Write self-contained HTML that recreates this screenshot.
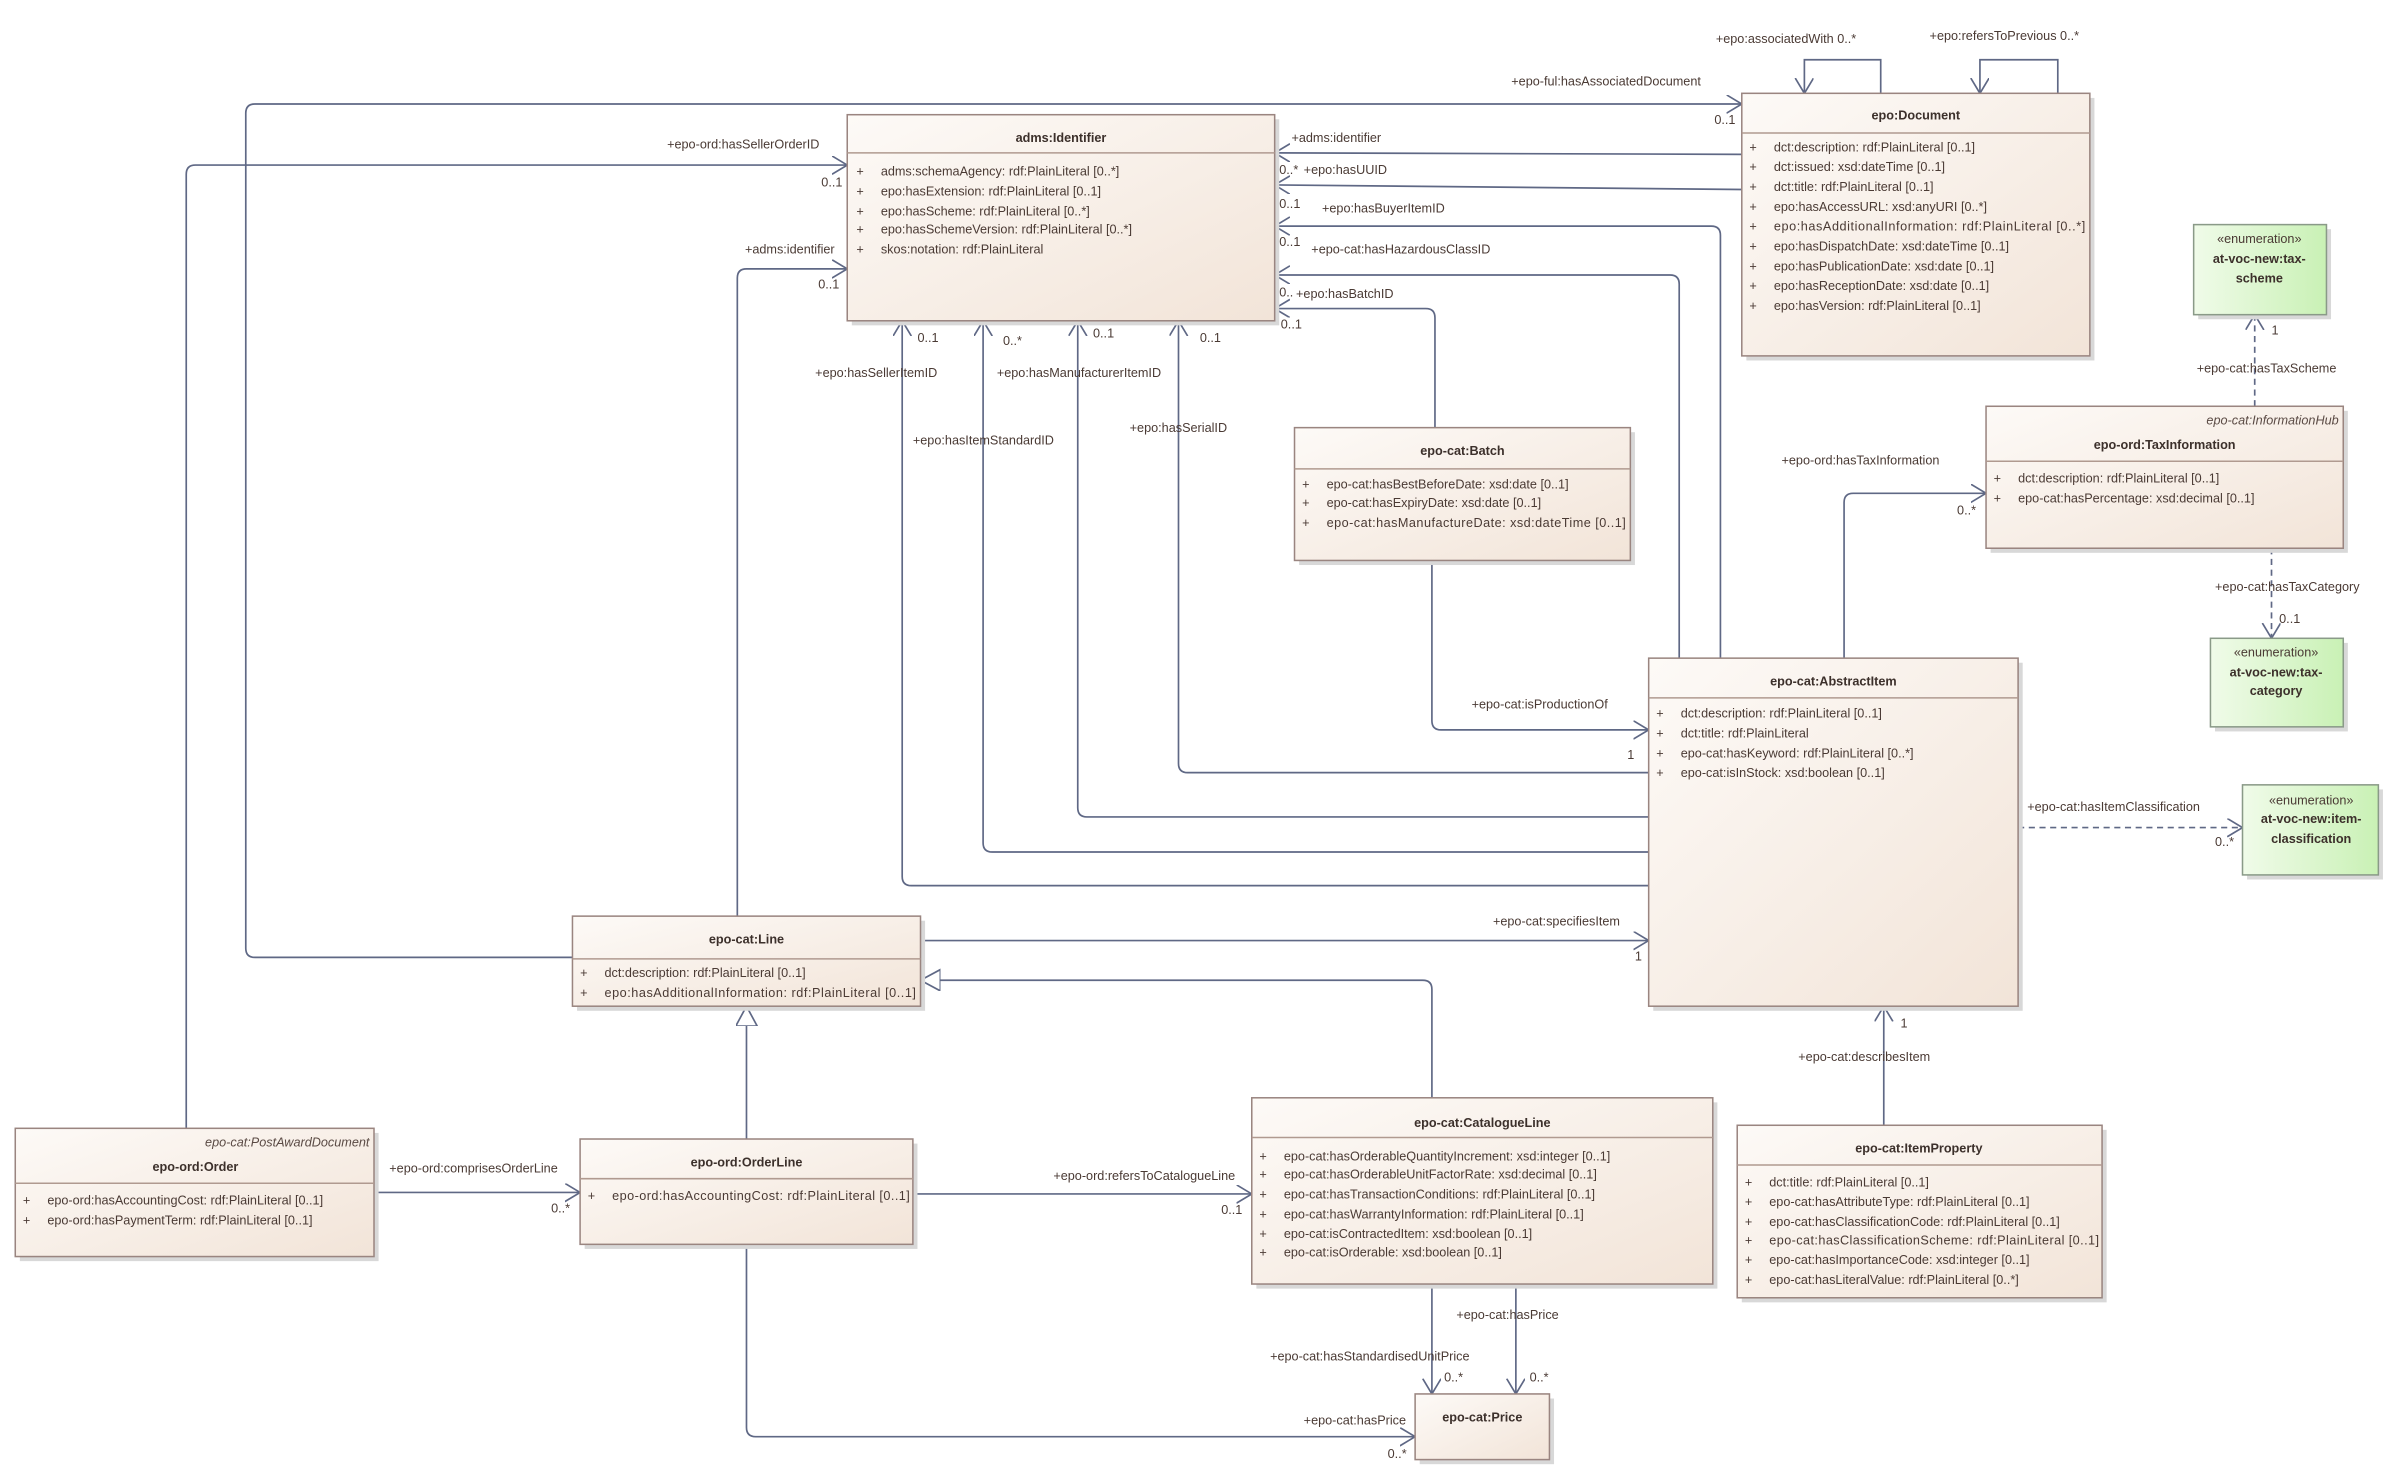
<!DOCTYPE html>
<html><head><meta charset="utf-8"><style>
html,body{margin:0;padding:0;background:#fff}
svg{display:block}
text{font-family:"Liberation Sans",sans-serif;font-size:8.3px;fill:#4a3a34}
.t{font-weight:bold;text-anchor:middle;fill:#3c302b}
.i{font-style:italic;text-anchor:end;fill:#5a4a44}
.c{text-anchor:middle}
.l{fill:#4a4a55}
.ln{fill:none;stroke:#5f6885;stroke-width:1.1}
.d{stroke-dasharray:4,3}
.bx{fill:url(#g);stroke:#9a8580;stroke-width:1}
.en{fill:url(#gg);stroke:#8a9a88;stroke-width:1}
.sh{fill:#d8d8d8}
.sep{stroke:#b09a90;stroke-width:1}
</style></head><body>
<svg width="2386" height="1472" viewBox="0 0 1563 964" xmlns="http://www.w3.org/2000/svg">
<defs>
<linearGradient id="g" x1="0" y1="0" x2="1" y2="1"><stop offset="0" stop-color="#fdfaf7"/><stop offset="1" stop-color="#f2e4d8"/></linearGradient>
<linearGradient id="gg" x1="0" y1="0" x2="1" y2="0"><stop offset="0" stop-color="#f0fbe9"/><stop offset="1" stop-color="#c9f1b5"/></linearGradient>
<marker id="a" markerUnits="userSpaceOnUse" markerWidth="14" markerHeight="14" refX="10" refY="6" orient="auto"><path d="M0,0 L10,6 L0,12" fill="none" stroke="#5f6885" stroke-width="1.1"/></marker>
<marker id="tri" markerUnits="userSpaceOnUse" markerWidth="16" markerHeight="16" refX="13" refY="7" orient="auto"><path d="M0,0 L13,7 L0,14 Z" fill="#fff" stroke="#5f6885" stroke-width="1.1"/></marker>
</defs>

<!-- connectors -->
<path class="ln" d="M375,627 H167 Q161,627 161,621 V74 Q161,68 167,68 H1141" marker-end="url(#a)"/>
<path class="ln" d="M122,739 V114 Q122,108 128,108 H555" marker-end="url(#a)"/>
<path class="ln" d="M483,600 V182 Q483,176 489,176 H555" marker-end="url(#a)"/>
<path class="ln" d="M1141,101 L835,100" marker-end="url(#a)"/>
<path class="ln" d="M1141,124 L835,121" marker-end="url(#a)"/>
<path class="ln" d="M1127,431 V154 Q1127,148 1121,148 H835" marker-end="url(#a)"/>
<path class="ln" d="M1100,431 V186 Q1100,180 1094,180 H835" marker-end="url(#a)"/>
<path class="ln" d="M940,280 V208 Q940,202 934,202 H835" marker-end="url(#a)"/>
<path class="ln" d="M1080,580 H597 Q591,580 591,574 V210" marker-end="url(#a)"/>
<path class="ln" d="M1080,558 H650 Q644,558 644,552 V210" marker-end="url(#a)"/>
<path class="ln" d="M1080,535 H712 Q706,535 706,529 V210" marker-end="url(#a)"/>
<path class="ln" d="M1080,506 H778 Q772,506 772,500 V210" marker-end="url(#a)"/>
<path class="ln" d="M938,367 V472 Q938,478 944,478 H1080" marker-end="url(#a)"/>
<path class="ln" d="M1208,431 V329 Q1208,323 1214,323 H1301" marker-end="url(#a)"/>
<path class="ln d" d="M1477,266 V206" marker-end="url(#a)"/>
<path class="ln d" d="M1488,359 V418" marker-end="url(#a)"/>
<path class="ln d" d="M1322,542 H1469" marker-end="url(#a)"/>
<path class="ln" d="M603,616 H1080" marker-end="url(#a)"/>
<path class="ln" d="M1234,737 V659" marker-end="url(#a)"/>
<path class="ln" d="M938,719 V648 Q938,642 932,642 H603" marker-end="url(#tri)"/>
<path class="ln" d="M489,746 V659" marker-end="url(#tri)"/>
<path class="ln" d="M245,781 H380" marker-end="url(#a)"/>
<path class="ln" d="M598,782 H820" marker-end="url(#a)"/>
<path class="ln" d="M1232,61 V39 H1182 V61" marker-end="url(#a)"/>
<path class="ln" d="M1348,61 V39 H1297 V61" marker-end="url(#a)"/>
<path class="ln" d="M938,841 V913" marker-end="url(#a)"/>
<path class="ln" d="M993,841 V913" marker-end="url(#a)"/>
<path class="ln" d="M489,815 V935 Q489,941 495,941 H927" marker-end="url(#a)"/>

<!-- connector labels -->
<g class="l">
<text x="990" y="56">+epo-ful:hasAssociatedDocument</text><text x="1123" y="81">0..1</text>
<text x="437" y="97">+epo-ord:hasSellerOrderID</text><text x="538" y="122">0..1</text>
<text x="488" y="166">+adms:identifier</text><text x="536" y="189">0..1</text>
<text x="846" y="93">+adms:identifier</text><text x="838" y="114">0..*</text><text x="854" y="114">+epo:hasUUID</text>
<text x="838" y="136">0..1</text><text x="866" y="139">+epo:hasBuyerItemID</text>
<text x="838" y="161">0..1</text><text x="859" y="166">+epo-cat:hasHazardousClassID</text>
<text x="838" y="194">0..</text><text x="849" y="195">+epo:hasBatchID</text><text x="839" y="215">0..1</text>
<text x="534" y="247">+epo:hasSellerItemID</text><text x="601" y="224">0..1</text>
<text x="598" y="291">+epo:hasItemStandardID</text><text x="657" y="226">0..*</text>
<text x="653" y="247">+epo:hasManufacturerItemID</text><text x="716" y="221">0..1</text>
<text x="740" y="283">+epo:hasSerialID</text><text x="786" y="224">0..1</text>
<text x="964" y="464">+epo-cat:isProductionOf</text><text x="1066" y="497">1</text>
<text x="1167" y="304">+epo-ord:hasTaxInformation</text><text x="1282" y="337">0..*</text>
<text x="1439" y="244">+epo-cat:hasTaxScheme</text><text x="1488" y="219">1</text>
<text x="1451" y="387">+epo-cat:hasTaxCategory</text><text x="1493" y="408">0..1</text>
<text x="1328" y="531">+epo-cat:hasItemClassification</text><text x="1451" y="554">0..*</text>
<text x="978" y="606">+epo-cat:specifiesItem</text><text x="1071" y="629">1</text>
<text x="1178" y="695">+epo-cat:describesItem</text><text x="1245" y="673">1</text>
<text x="255" y="768">+epo-ord:comprisesOrderLine</text><text x="361" y="794">0..*</text>
<text x="690" y="773">+epo-ord:refersToCatalogueLine</text><text x="800" y="795">0..1</text>
<text x="1124" y="28">+epo:associatedWith 0..*</text>
<text x="1264" y="26">+epo:refersToPrevious 0..*</text>
<text x="832" y="891">+epo-cat:hasStandardisedUnitPrice</text><text x="946" y="905">0..*</text>
<text x="954" y="864">+epo-cat:hasPrice</text><text x="1002" y="905">0..*</text>
<text x="854" y="933">+epo-cat:hasPrice</text><text x="909" y="955">0..*</text>
</g>

<!-- adms:Identifier -->
<rect class="sh" x="558" y="78" width="280" height="135"/>
<rect class="bx" x="555" y="75" width="280" height="135"/>
<line class="sep" x1="555" y1="100" x2="835" y2="100"/>
<text class="t" x="695" y="93">adms:Identifier</text>
<text x="561" y="115">+</text><text x="577" y="115">adms:schemaAgency: rdf:PlainLiteral [0..*]</text>
<text x="561" y="128">+</text><text x="577" y="128">epo:hasExtension: rdf:PlainLiteral [0..1]</text>
<text x="561" y="141">+</text><text x="577" y="141">epo:hasScheme: rdf:PlainLiteral [0..*]</text>
<text x="561" y="153">+</text><text x="577" y="153">epo:hasSchemeVersion: rdf:PlainLiteral [0..*]</text>
<text x="561" y="166">+</text><text x="577" y="166">skos:notation: rdf:PlainLiteral</text>

<!-- epo:Document -->
<rect class="sh" x="1144" y="64" width="228" height="172"/>
<rect class="bx" x="1141" y="61" width="228" height="172"/>
<line class="sep" x1="1141" y1="87" x2="1369" y2="87"/>
<text class="t" x="1255" y="78">epo:Document</text>
<g>
<text x="1146" y="99">+</text><text x="1162" y="99">dct:description: rdf:PlainLiteral [0..1]</text>
<text x="1146" y="112">+</text><text x="1162" y="112">dct:issued: xsd:dateTime [0..1]</text>
<text x="1146" y="125">+</text><text x="1162" y="125">dct:title: rdf:PlainLiteral [0..1]</text>
<text x="1146" y="138">+</text><text x="1162" y="138">epo:hasAccessURL: xsd:anyURI [0..*]</text>
<text x="1146" y="151">+</text><text x="1162" y="151" textLength="204">epo:hasAdditionalInformation: rdf:PlainLiteral [0..*]</text>
<text x="1146" y="164">+</text><text x="1162" y="164">epo:hasDispatchDate: xsd:dateTime [0..1]</text>
<text x="1146" y="177">+</text><text x="1162" y="177">epo:hasPublicationDate: xsd:date [0..1]</text>
<text x="1146" y="190">+</text><text x="1162" y="190">epo:hasReceptionDate: xsd:date [0..1]</text>
<text x="1146" y="203">+</text><text x="1162" y="203">epo:hasVersion: rdf:PlainLiteral [0..1]</text>
</g>

<!-- enums -->
<rect class="sh" x="1440" y="150" width="87" height="59"/>
<rect class="en" x="1437" y="147" width="87" height="59"/>
<text class="c" x="1480" y="159">«enumeration»</text>
<text class="t" x="1480" y="172">at-voc-new:tax-</text><text class="t" x="1480" y="185">scheme</text>

<rect class="sh" x="1451" y="421" width="87" height="58"/>
<rect class="en" x="1448" y="418" width="87" height="58"/>
<text class="c" x="1491" y="430">«enumeration»</text>
<text class="t" x="1491" y="443">at-voc-new:tax-</text><text class="t" x="1491" y="455">category</text>

<rect class="sh" x="1472" y="517" width="89" height="59"/>
<rect class="en" x="1469" y="514" width="89" height="59"/>
<text class="c" x="1514" y="527">«enumeration»</text>
<text class="t" x="1514" y="539">at-voc-new:item-</text><text class="t" x="1514" y="552">classification</text>

<!-- TaxInformation -->
<rect class="sh" x="1304" y="269" width="234" height="93"/>
<rect class="bx" x="1301" y="266" width="234" height="93"/>
<text class="i" x="1532" y="278">epo-cat:InformationHub</text>
<text class="t" x="1418" y="294">epo-ord:TaxInformation</text>
<line class="sep" x1="1301" y1="302" x2="1535" y2="302"/>
<text x="1306" y="316">+</text><text x="1322" y="316">dct:description: rdf:PlainLiteral [0..1]</text>
<text x="1306" y="329">+</text><text x="1322" y="329">epo-cat:hasPercentage: xsd:decimal [0..1]</text>

<!-- Batch -->
<rect class="sh" x="851" y="283" width="220" height="87"/>
<rect class="bx" x="848" y="280" width="220" height="87"/>
<text class="t" x="958" y="298">epo-cat:Batch</text>
<line class="sep" x1="848" y1="307" x2="1068" y2="307"/>
<text x="853" y="320">+</text><text x="869" y="320">epo-cat:hasBestBeforeDate: xsd:date [0..1]</text>
<text x="853" y="332">+</text><text x="869" y="332">epo-cat:hasExpiryDate: xsd:date [0..1]</text>
<text x="853" y="345">+</text><text x="869" y="345" textLength="196">epo-cat:hasManufactureDate: xsd:dateTime [0..1]</text>

<!-- AbstractItem -->
<rect class="sh" x="1083" y="434" width="242" height="228"/>
<rect class="bx" x="1080" y="431" width="242" height="228"/>
<text class="t" x="1201" y="449">epo-cat:AbstractItem</text>
<line class="sep" x1="1080" y1="457" x2="1322" y2="457"/>
<text x="1085" y="470">+</text><text x="1101" y="470">dct:description: rdf:PlainLiteral [0..1]</text>
<text x="1085" y="483">+</text><text x="1101" y="483">dct:title: rdf:PlainLiteral</text>
<text x="1085" y="496">+</text><text x="1101" y="496">epo-cat:hasKeyword: rdf:PlainLiteral [0..*]</text>
<text x="1085" y="509">+</text><text x="1101" y="509">epo-cat:isInStock: xsd:boolean [0..1]</text>

<!-- Line -->
<rect class="sh" x="378" y="603" width="228" height="59"/>
<rect class="bx" x="375" y="600" width="228" height="59"/>
<text class="t" x="489" y="618">epo-cat:Line</text>
<line class="sep" x1="375" y1="628" x2="603" y2="628"/>
<text x="380" y="640">+</text><text x="396" y="640">dct:description: rdf:PlainLiteral [0..1]</text>
<text x="380" y="653">+</text><text x="396" y="653" textLength="204">epo:hasAdditionalInformation: rdf:PlainLiteral [0..1]</text>

<!-- Order -->
<rect class="sh" x="13" y="742" width="235" height="84"/>
<rect class="bx" x="10" y="739" width="235" height="84"/>
<text class="i" x="242" y="751">epo-cat:PostAwardDocument</text>
<text class="t" x="128" y="767">epo-ord:Order</text>
<line class="sep" x1="10" y1="775" x2="245" y2="775"/>
<text x="15" y="789">+</text><text x="31" y="789">epo-ord:hasAccountingCost: rdf:PlainLiteral [0..1]</text>
<text x="15" y="802">+</text><text x="31" y="802">epo-ord:hasPaymentTerm: rdf:PlainLiteral [0..1]</text>

<!-- OrderLine -->
<rect class="sh" x="383" y="749" width="218" height="69"/>
<rect class="bx" x="380" y="746" width="218" height="69"/>
<text class="t" x="489" y="764">epo-ord:OrderLine</text>
<line class="sep" x1="380" y1="772" x2="598" y2="772"/>
<text x="385" y="786">+</text><text x="401" y="786" textLength="195">epo-ord:hasAccountingCost: rdf:PlainLiteral [0..1]</text>

<!-- CatalogueLine -->
<rect class="sh" x="823" y="722" width="302" height="122"/>
<rect class="bx" x="820" y="719" width="302" height="122"/>
<text class="t" x="971" y="738">epo-cat:CatalogueLine</text>
<line class="sep" x1="820" y1="745" x2="1122" y2="745"/>
<text x="825" y="760">+</text><text x="841" y="760">epo-cat:hasOrderableQuantityIncrement: xsd:integer [0..1]</text>
<text x="825" y="772">+</text><text x="841" y="772">epo-cat:hasOrderableUnitFactorRate: xsd:decimal [0..1]</text>
<text x="825" y="785">+</text><text x="841" y="785">epo-cat:hasTransactionConditions: rdf:PlainLiteral [0..1]</text>
<text x="825" y="798">+</text><text x="841" y="798">epo-cat:hasWarrantyInformation: rdf:PlainLiteral [0..1]</text>
<text x="825" y="811">+</text><text x="841" y="811">epo-cat:isContractedItem: xsd:boolean [0..1]</text>
<text x="825" y="823">+</text><text x="841" y="823">epo-cat:isOrderable: xsd:boolean [0..1]</text>

<!-- ItemProperty -->
<rect class="sh" x="1141" y="740" width="239" height="113"/>
<rect class="bx" x="1138" y="737" width="239" height="113"/>
<text class="t" x="1257" y="755">epo-cat:ItemProperty</text>
<line class="sep" x1="1138" y1="763" x2="1377" y2="763"/>
<text x="1143" y="777">+</text><text x="1159" y="777">dct:title: rdf:PlainLiteral [0..1]</text>
<text x="1143" y="790">+</text><text x="1159" y="790">epo-cat:hasAttributeType: rdf:PlainLiteral [0..1]</text>
<text x="1143" y="803">+</text><text x="1159" y="803">epo-cat:hasClassificationCode: rdf:PlainLiteral [0..1]</text>
<text x="1143" y="815">+</text><text x="1159" y="815" textLength="216">epo-cat:hasClassificationScheme: rdf:PlainLiteral [0..1]</text>
<text x="1143" y="828">+</text><text x="1159" y="828">epo-cat:hasImportanceCode: xsd:integer [0..1]</text>
<text x="1143" y="841">+</text><text x="1159" y="841">epo-cat:hasLiteralValue: rdf:PlainLiteral [0..*]</text>

<!-- Price -->
<rect class="sh" x="930" y="916" width="88" height="43"/>
<rect class="bx" x="927" y="913" width="88" height="43"/>
<text class="t" x="971" y="931">epo-cat:Price</text>
</svg>
</body></html>
